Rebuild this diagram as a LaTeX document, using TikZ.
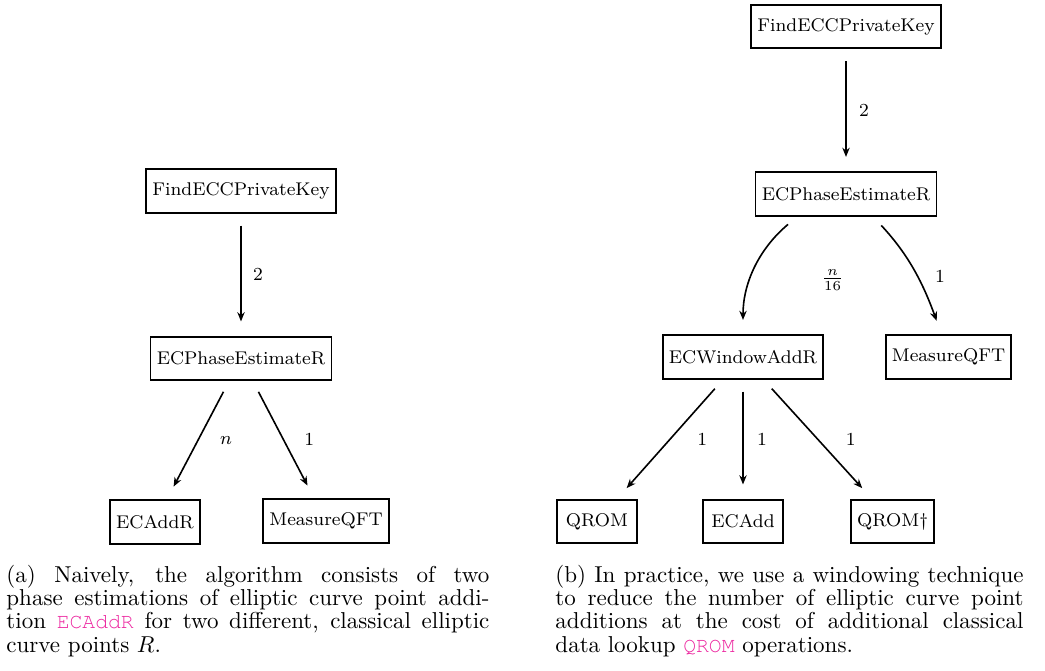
\documentclass[tikz,border=0pt]{standalone}
\usepackage[T1]{fontenc}
\usepackage{fontspec}
\usepackage{tikz}
\usetikzlibrary{positioning, arrows.meta}
\definecolor{codePink}{RGB}{236,40,160}
\newcommand{\codename}[1]{\textcolor{codePink}{\fontencoding{T1}\fontfamily{pcr}\fontsize{9.3}{10}\selectfont #1}}

\begin{document}
\begin{tikzpicture}[
    x=0.4348pt, y=-0.4348pt,
    blk/.style={rectangle, draw, thick, minimum width=35pt, minimum height=19pt,
                inner xsep=2.7pt, inner ysep=3.3pt, font=\footnotesize},
    edge/.style={-{Stealth[length=4pt, width=3.2pt]}, line width=0.7pt,
                 shorten <=5.2pt, shorten >=6.2pt},
    lbl/.style={font=\footnotesize, inner sep=0pt},
    subcap/.style={inner sep=0pt, align=justify, anchor=base west,
                   font=\fontsize{10}{10.15}\selectfont},
  ]
    \useasboundingbox (0,0) rectangle (1045,671);

    % (a) naive tree
    \node[blk] (FK1) at (241,191) {FindECCPrivateKey};
    \node[blk, below=53pt of FK1] (PE1) {ECPhaseEstimateR};
    \node[blk] (EA) at (155,522) {ECAddR};
    \node[blk] (MQ1) at (326,521) {MeasureQFT};

    \draw[edge] (FK1) -- node[lbl, xshift=7.4pt] {2} (PE1);
    \draw[edge] (PE1) -- node[lbl, xshift=12.2pt] {$n$} (EA);
    \draw[edge] (PE1) -- node[lbl, xshift=11.2pt] {1} (MQ1);

    % (b) windowed tree
    \node[blk] (FK2) at (846,26.5) {FindECCPrivateKey};
    \node[blk, below=53pt of FK2] (PE2) {ECPhaseEstimateR};
    \node[blk] (WA) at (743,357) {ECWindowAddR};
    \node[blk] (MQ2) at (948.5,357) {MeasureQFT};
    \node[blk] (QR) at (597,521.5) {QROM};
    \node[blk] (EC) at (743,521.5) {ECAdd};
    \node[blk] (QD) at (892.5,521.5) {QROM\dag};

    \draw[edge] (FK2) -- node[lbl, xshift=7.8pt] {2} (PE2);
    \draw[edge] (PE2.-155) to[out=-140, in=90]
      node[lbl, xshift=33.5pt, yshift=-4.8pt] {$\frac{n}{16}$} (WA.north);
    \draw[edge] (PE2.-40) to[out=-47, in=110]
      node[lbl, xshift=11.3pt, yshift=-2.3pt] {1} (MQ2.107);
    \draw[edge] (WA) -- node[lbl, xshift=14pt] {1} (QR);
    \draw[edge] (WA) -- node[lbl, xshift=8.3pt] {1} (EC);
    \draw[edge] (WA) -- node[lbl, xshift=14.3pt] {1} (QD);

    % captions
    \node[subcap, text width=210pt] (capA) at (6,582)
      {(a) Naively, the algorithm consists of two\linebreak
       phase estimations of elliptic curve point addi-\linebreak
       tion \codename{ECAddR} for two different, classical elliptic\linebreak
       curve points $R$.};
    \node[subcap, text width=203.5pt] (capB) at (555,582)
      {(b) In practice, we use a windowing technique\linebreak
       to reduce the number of elliptic curve point\linebreak
       additions at the cost of additional classical\linebreak
       data lookup \codename{QROM} operations.};
  \end{tikzpicture}
\end{document}
